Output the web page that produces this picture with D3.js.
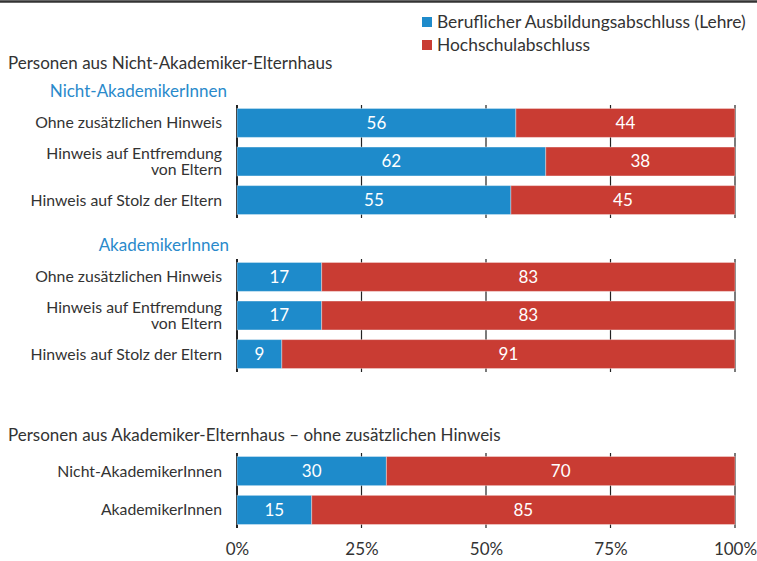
<!DOCTYPE html>
<html>
<head>
<meta charset="utf-8">
<script src="https://cdn.jsdelivr.net/npm/d3@7"></script>
<style>
  body { margin: 0; background: #fff; }
  svg { display: block; font-family: Lato, 'Noto Sans', sans-serif; }
</style>
</head>
<body>
<div id="chart"></div>
<script>
// data
const seriesNames = ['Beruflicher Ausbildungsabschluss (Lehre)', 'Hochschulabschluss']
const hinweisCats = ['Ohne zusätzlichen Hinweis', 'Hinweis auf Entfremdung\nvon Eltern', 'Hinweis auf Stolz der Eltern']
const gruppeCats = ['Nicht-AkademikerInnen', 'AkademikerInnen']

const lehreNichtAkad = [56, 62, 55]
const hochschuleNichtAkad = [44, 38, 45]
const lehreAkad = [17, 17, 9]
const hochschuleAkad = [83, 83, 91]
const lehreAkadEltern = [30, 15]
const hochschuleAkadEltern = [70, 85]

const tickValues = [0, 25, 50, 75, 100]

const colors = ['#1e8bcb', '#c93c33']
const textColor = '#333'
const fontSize = '17px'
const catFontSize = '15.8px'

const width = 757, height = 561

const svg = d3.select('#chart')
  .append('svg')
  .attr('width', width)
  .attr('height', height)

const xScale = d3.scaleLinear()
  .domain([0, 100])
  .range([237, 735])

// top rule
svg.append('line')
  .attr('x1', 0).attr('x2', width)
  .attr('y1', 1.5).attr('y2', 1.5)
  .attr('stroke', '#333')
  .attr('stroke-width', 2.5)

// legend
const legend = svg.append('g')
  .selectAll('g')
  .data(seriesNames)
  .enter().append('g')
  .attr('transform', (d, i) => 'translate(422,' + (17 + i * 23) + ')')
legend.append('rect')
  .attr('width', 10).attr('height', 10)
  .attr('fill', (d, i) => colors[i])
legend.append('text')
  .attr('x', 15).attr('y', 5)
  .attr('dy', '0.35em')
  .attr('fill', textColor)
  .style('font-size', '17.4px')
  .text(d => d)

// section titles
const titles = [
  { text: 'Personen aus Nicht-Akademiker-Elternhaus', x: 8, y: 63, anchor: 'start', color: textColor },
  { text: 'Nicht-AkademikerInnen', x: 227, y: 91, anchor: 'end', color: '#2a8acb' },
  { text: 'AkademikerInnen', x: 229, y: 245, anchor: 'end', color: '#2a8acb' },
  { text: 'Personen aus Akademiker-Elternhaus – ohne zusätzlichen Hinweis', x: 8, y: 435, anchor: 'start', color: textColor }
]
svg.append('g').selectAll('text')
  .data(titles)
  .enter().append('text')
  .attr('x', d => d.x)
  .attr('y', d => d.y)
  .attr('dy', '0.35em')
  .attr('text-anchor', d => d.anchor)
  .attr('fill', d => d.color)
  .style('font-size', fontSize)
  .text(d => d.text)

const panels = [
  { cats: hinweisCats, lehre: lehreNichtAkad, hoch: hochschuleNichtAkad, top: 105, bottom: 218 },
  { cats: hinweisCats, lehre: lehreAkad, hoch: hochschuleAkad, top: 259, bottom: 372 },
  { cats: gruppeCats, lehre: lehreAkadEltern, hoch: hochschuleAkadEltern, top: 453, bottom: 528 }
]

const stack = d3.stack().keys(['lehre', 'hoch'])

panels.forEach(p => {
  const rows = p.cats.map((c, i) => ({ cat: c, lehre: p.lehre[i], hoch: p.hoch[i] }))

  const yScale = d3.scaleBand()
    .domain(p.cats)
    .range([p.top, p.bottom])
    .paddingInner(0.25)
    .paddingOuter(0.09)

  const g = svg.append('g')

  // grid lines behind bars
  g.selectAll('.grid')
    .data(tickValues)
    .enter().append('line')
    .attr('x1', d => xScale(d)).attr('x2', d => xScale(d))
    .attr('y1', p.top).attr('y2', p.bottom)
    .attr('stroke', '#222')
    .attr('stroke-width', d => d === 0 ? 2 : 1.2)

  const layers = g.selectAll('.layer')
    .data(stack(rows))
    .enter().append('g')
    .attr('fill', (d, i) => colors[i])

  layers.selectAll('rect')
    .data(d => d)
    .enter().append('rect')
    .attr('x', d => xScale(d[0]))
    .attr('width', d => xScale(d[1]) - xScale(d[0]))
    .attr('y', d => yScale(d.data.cat))
    .attr('height', yScale.bandwidth())
    .attr('stroke', 'rgba(255,255,255,0.35)')
    .attr('stroke-width', 1)

  layers.selectAll('text')
    .data(d => d)
    .enter().append('text')
    .attr('x', d => (xScale(d[0]) + xScale(d[1])) / 2)
    .attr('y', d => yScale(d.data.cat) + yScale.bandwidth() / 2)
    .attr('dy', '0.35em')
    .attr('text-anchor', 'middle')
    .attr('fill', '#fff')
    .style('font-size', fontSize)
    .text(d => d[1] - d[0])

  // category labels
  const labels = g.selectAll('.cat')
    .data(p.cats)
    .enter().append('text')
    .attr('text-anchor', 'end')
    .attr('fill', textColor)
    .style('font-size', catFontSize)
    .attr('transform', d => 'translate(222,' + (yScale(d) + yScale.bandwidth() / 2) + ')')

  labels.each(function(d) {
    const lines = d.split('\n')
    d3.select(this).selectAll('tspan')
      .data(lines)
      .enter().append('tspan')
      .attr('x', 0)
      .attr('y', (l, i) => (i - (lines.length - 1) / 2) * 16)
      .attr('dy', '0.35em')
      .text(l => l)
  })
})

// x axis labels
const xAxis = d3.axisBottom(xScale)
  .tickValues(tickValues)
  .tickFormat(d => d + '%')
  .tickSize(0)
  .tickPadding(0)
const xGuide = svg.append('g')
  .attr('transform', 'translate(0,543)')
xAxis(xGuide)
xGuide.select('.domain').remove()
xGuide.selectAll('text')
  .attr('fill', textColor)
  .style('font-size', fontSize)
  .style('font-family', "Lato, 'Noto Sans', sans-serif")
</script>
</body>
</html>
